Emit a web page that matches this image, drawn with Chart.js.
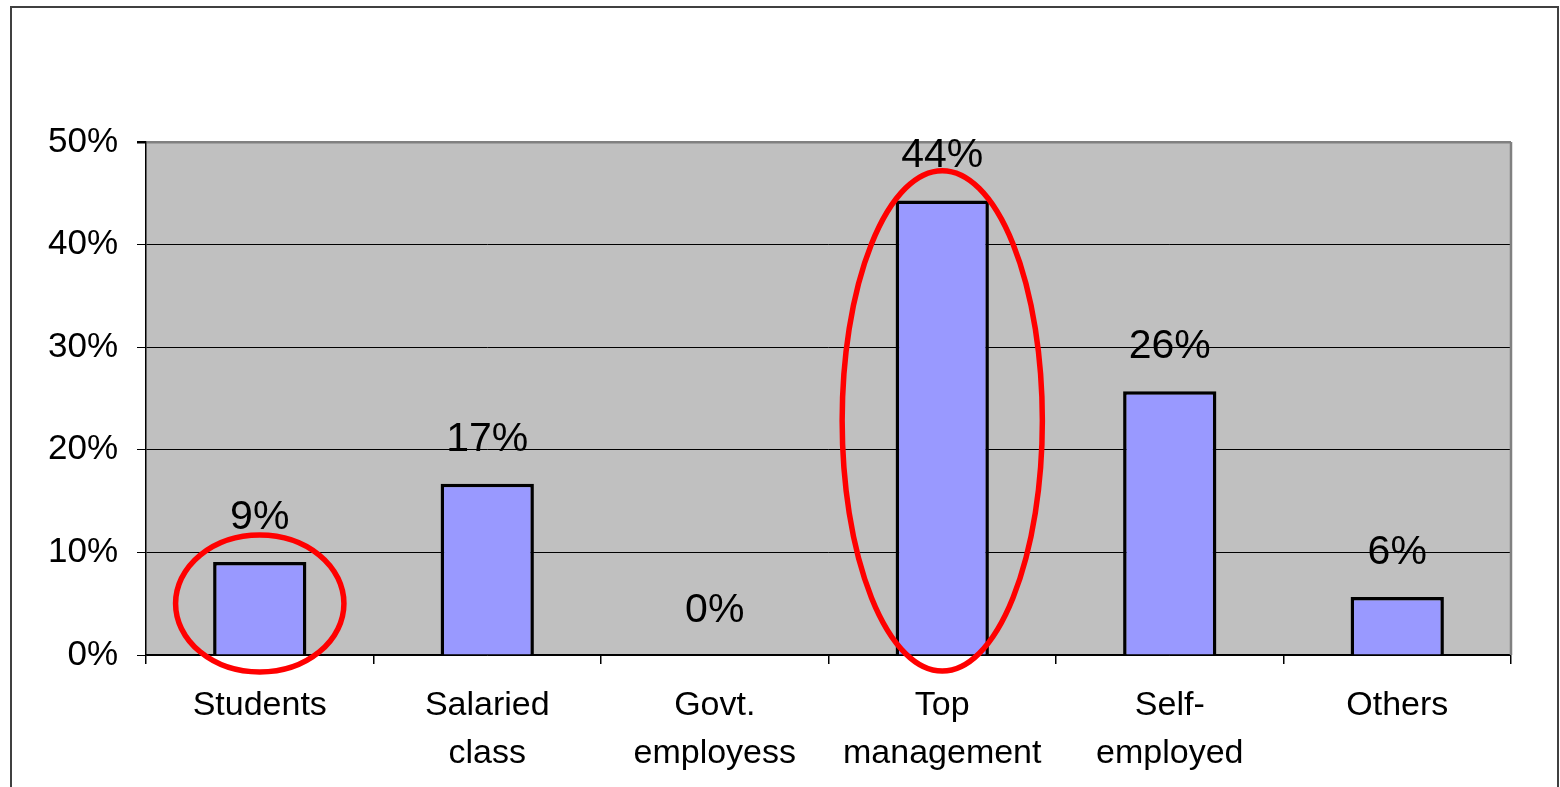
<!DOCTYPE html>
<html>
<head>
<meta charset="utf-8">
<script src="https://cdn.jsdelivr.net/npm/chart.js@4.4.1/dist/chart.umd.min.js"></script>
<style>
  html, body { margin: 0; padding: 0; background: #fff; }
  #wrap { width: 1560px; height: 787px; position: relative; }
</style>
</head>
<body>
<div id="wrap"><canvas id="chart"></canvas></div>
<script>
// categories and values
const categories = [['Students'], ['Salaried', 'class'], ['Govt.', 'employess'], ['Top', 'management'], ['Self-', 'employed'], ['Others']];
const shares = [9.06, 16.7, 0, 44.3, 25.7, 5.65];
const shareLabels = ['9%', '17%', '0%', '44%', '26%', '6%'];
const yTicks = [0, 10, 20, 30, 40, 50];

// highlighted categories: index, value range covered by the ring, half width in categories
const rings = [
    { index: 0, from: -1.66, to: 11.7, half: 0.37 },
    { index: 3, from: -1.56, to: 47.2, half: 0.44 }
];

const FONT = '"Liberation Sans", Arial, sans-serif';

const framePlugin = {
    id: 'frame',
    beforeDraw(chart) {
        const { ctx, chartArea: a } = chart;
        ctx.save();
        ctx.fillStyle = '#c0c0c0';
        ctx.fillRect(a.left, a.top, a.right - a.left, a.bottom - a.top);
        ctx.restore();
    },
    afterDraw(chart) {
        const { ctx, chartArea: a } = chart;
        ctx.save();
        // right edge of the plot area
        ctx.strokeStyle = '#808080';
        ctx.lineWidth = 2.5;
        ctx.beginPath();
        ctx.moveTo(a.right, a.top);
        ctx.lineTo(a.right, a.bottom);
        ctx.stroke();
        // outer chart border
        ctx.strokeStyle = '#404040';
        ctx.lineWidth = 2;
        ctx.strokeRect(11, 7, 1547, 800);
        ctx.restore();
    }
};

const labelPlugin = {
    id: 'valueLabels',
    afterDatasetsDraw(chart) {
        const { ctx } = chart;
        const meta = chart.getDatasetMeta(0);
        ctx.save();
        ctx.font = '41px ' + FONT;
        ctx.fillStyle = '#000';
        ctx.textAlign = 'center';
        ctx.textBaseline = 'alphabetic';
        meta.data.forEach((bar, i) => {
            ctx.fillText(shareLabels[i], bar.x, bar.y - 33);
        });
        ctx.restore();
    }
};

const ringPlugin = {
    id: 'rings',
    afterDatasetsDraw(chart) {
        const { ctx, scales } = chart;
        const xs = scales.x, ys = scales.y;
        const step = xs.getPixelForValue(1) - xs.getPixelForValue(0);
        ctx.save();
        ctx.strokeStyle = '#ff0000';
        ctx.lineWidth = 5.5;
        rings.forEach(r => {
            const cx = xs.getPixelForValue(r.index);
            const yTop = ys.getPixelForValue(r.to);
            const yBot = ys.getPixelForValue(r.from);
            ctx.beginPath();
            ctx.ellipse(cx, (yTop + yBot) / 2, r.half * step, (yBot - yTop) / 2, 0, 0, Math.PI * 2);
            ctx.stroke();
        });
        ctx.restore();
    }
};

new Chart(document.getElementById('chart'), {
    type: 'bar',
    data: {
        labels: categories,
        datasets: [{
            data: shares,
            backgroundColor: '#9999ff',
            borderColor: '#000',
            borderWidth: 3.5,
            categoryPercentage: 1,
            barPercentage: 0.41
        }]
    },
    options: {
        responsive: true,
        maintainAspectRatio: false,
        animation: false,
        layout: { padding: { top: 142, right: 49, left: 0, bottom: 0 } },
        plugins: {
            legend: { display: false },
            tooltip: { enabled: false }
        },
        scales: {
            x: {
                afterFit(scale) { scale.height = 132; },
                grid: {
                    offset: true,
                    drawOnChartArea: false,
                    drawTicks: true,
                    tickLength: 9,
                    color: '#000',
                    lineWidth: 1.5
                },
                border: { display: true, color: '#000', width: 1.5 },
                ticks: {
                    color: '#000',
                    font: { family: FONT, size: 34, lineHeight: 1.4 },
                    padding: 18,
                    maxRotation: 0,
                    autoSkip: false
                }
            },
            y: {
                min: 0,
                max: 50,
                afterFit(scale) { scale.width = 146; },
                afterBuildTicks(scale) { scale.ticks = yTicks.map(v => ({ value: v })); },
                grid: {
                    color: ctx => ctx.tick && ctx.tick.value === 50 ? '#808080' : '#000',
                    lineWidth: ctx => ctx.tick && ctx.tick.value === 50 ? 2.5 : 1,
                    tickColor: '#000',
                    tickLength: 9
                },
                border: { display: true, color: '#000', width: 1.5 },
                ticks: {
                    color: '#000',
                    font: { family: FONT, size: 35 },
                    padding: 19,
                    callback: v => v + '%'
                }
            }
        }
    },
    plugins: [framePlugin, labelPlugin, ringPlugin]
});
</script>
</body>
</html>
